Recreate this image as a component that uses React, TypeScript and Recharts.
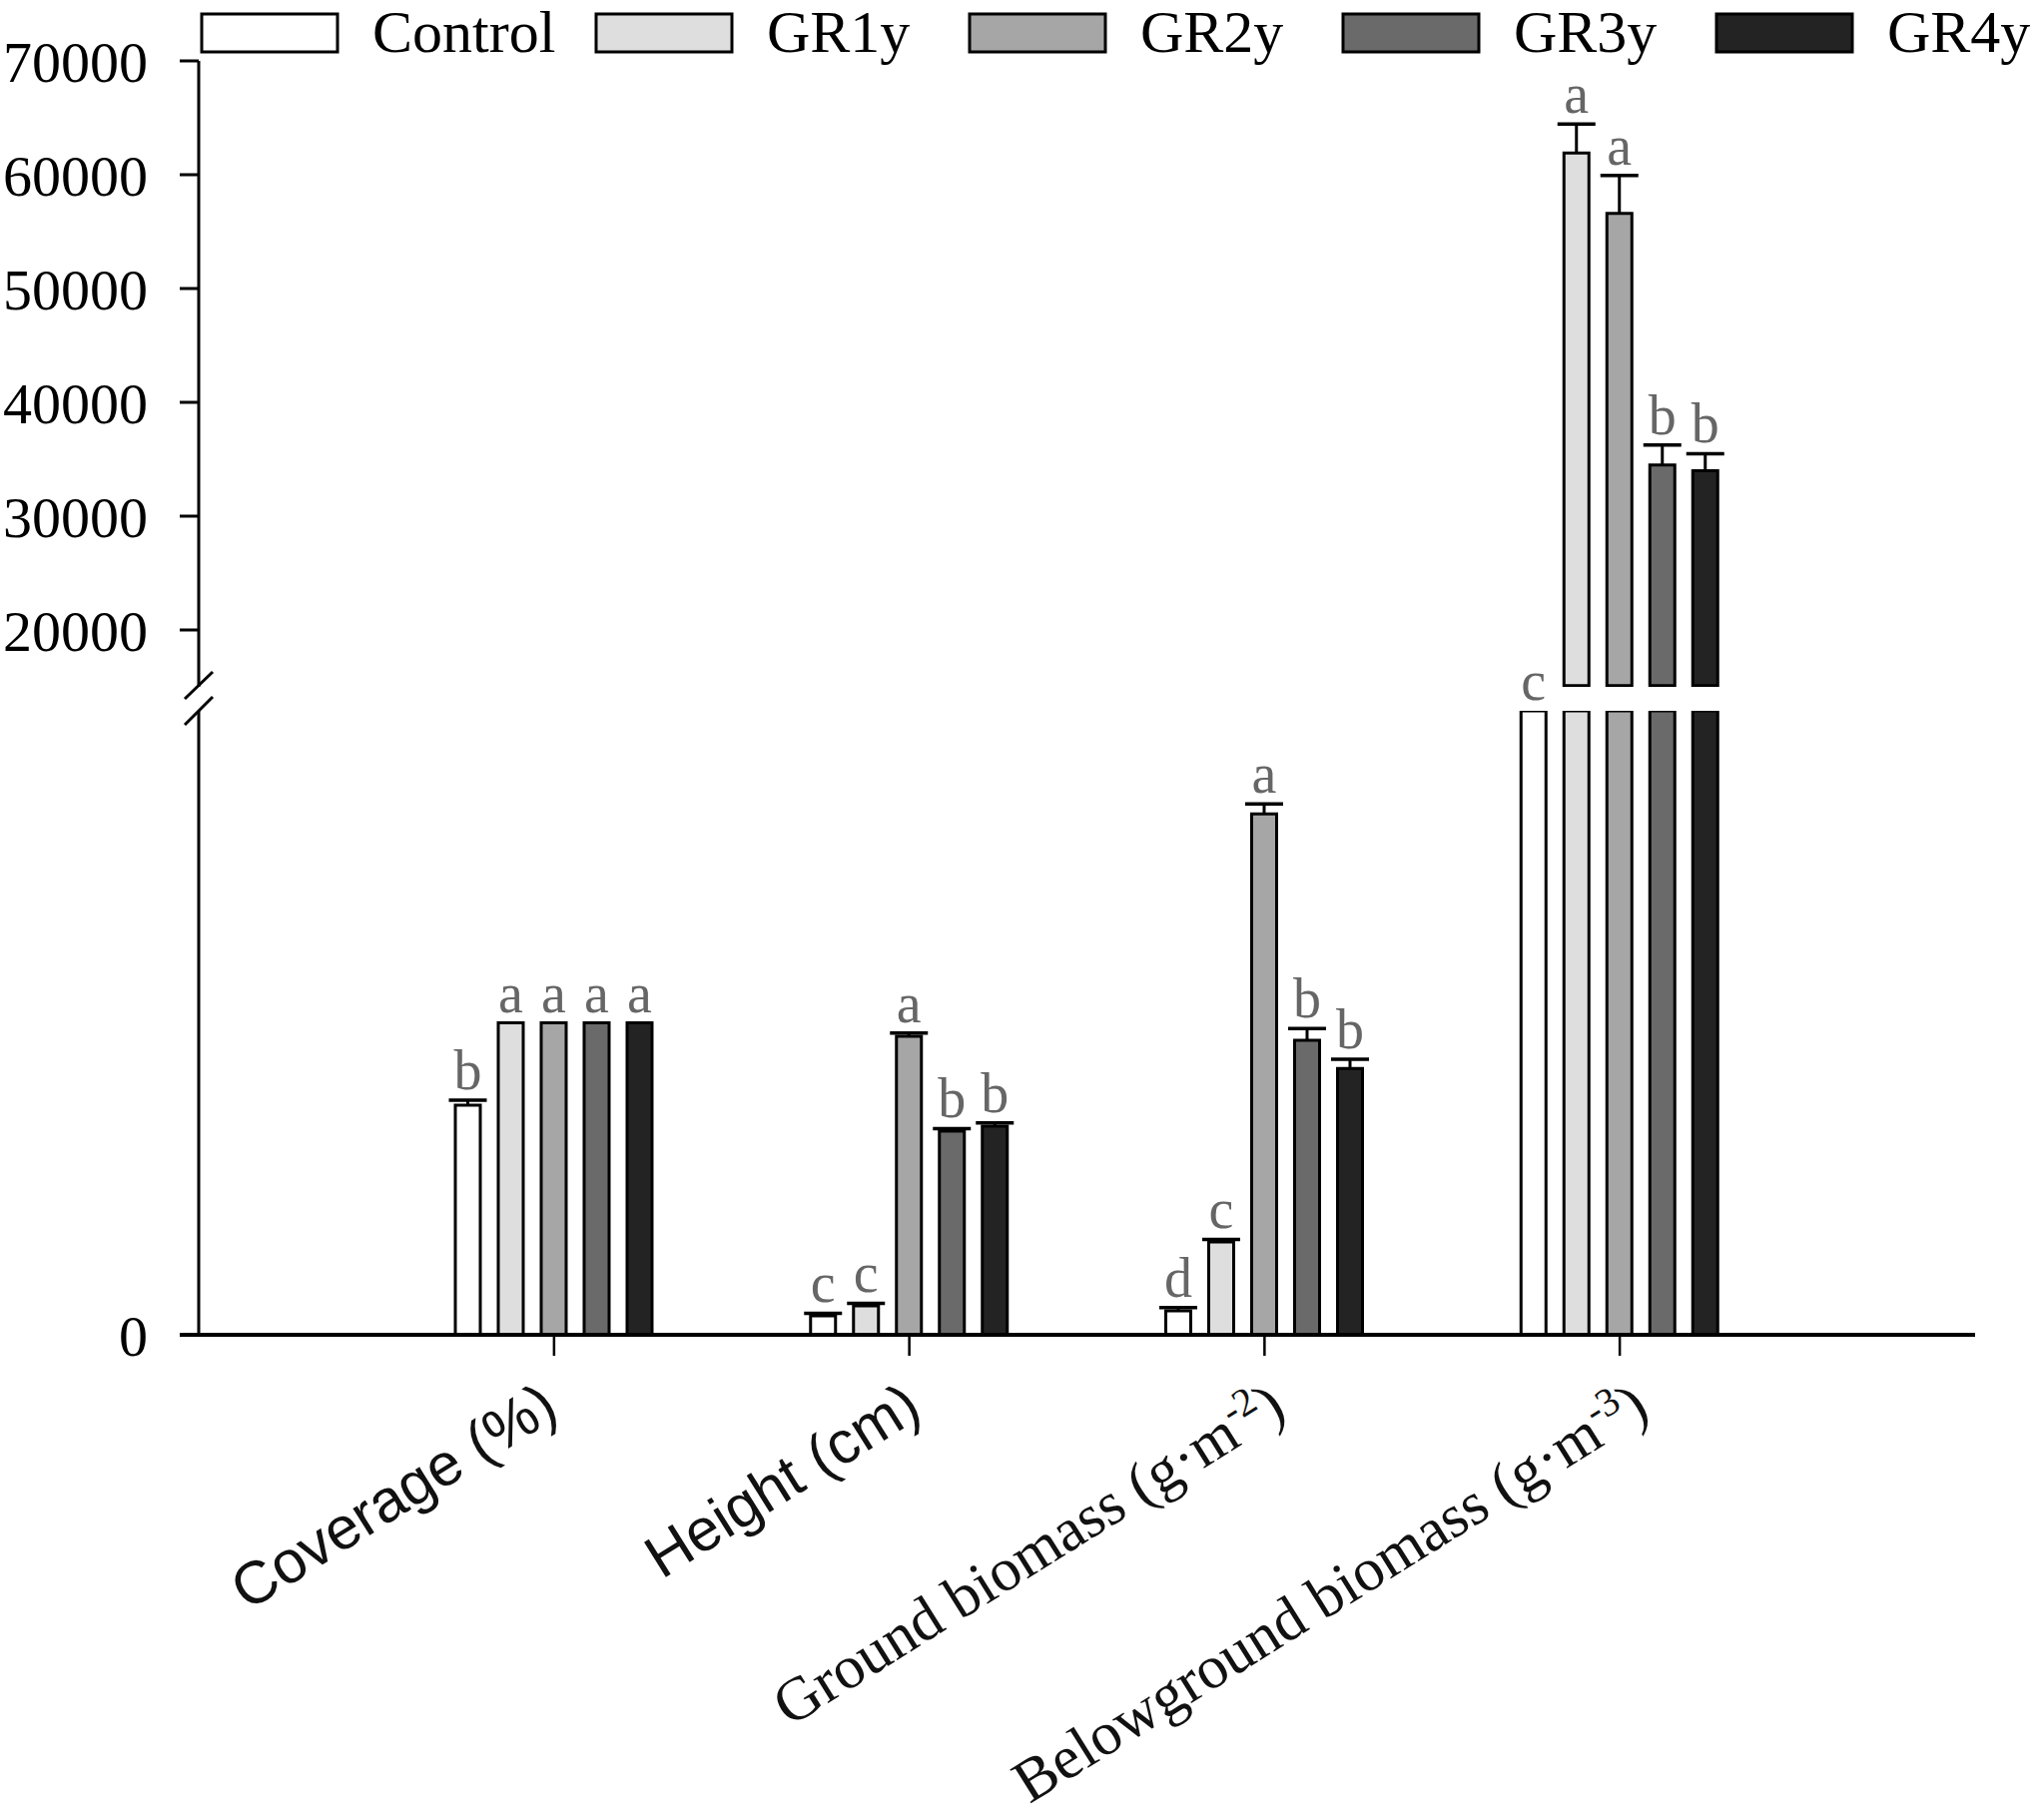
import React from 'react';
import { BarChart, Bar, XAxis, YAxis, LabelList } from 'recharts';

// ---------- data ----------
const categories = [
  'Coverage (%)',
  'Height (cm)',
  'Ground biomass (g·m^-2^)',
  'Belowground biomass (g·m^-3^)',
];
const seriesNames = ['Control', 'GR1y', 'GR2y', 'GR3y', 'GR4y'];
const seriesColors = ['#ffffff', '#dedede', '#a6a6a6', '#6a6a6a', '#232323'];

// lower segment values (unlabelled scale) and belowground biomass in real units
const controlValues = [73.6, 6.1, 7.7, 12000];
const gr1yValues = [100, 9.3, 29.8, 61900];
const gr2yValues = [100, 95.7, 167, 56600];
const gr3yValues = [100, 65.3, 94.4, 34500];
const gr4yValues = [100, 66.9, 85.4, 34000];

const controlErrors = [1.6, 0.8, 1.0, 0];
const gr1yErrors = [0, 0.8, 0.8, 2550];
const gr2yErrors = [0, 1.0, 3.2, 3340];
const gr3yErrors = [0, 0.8, 3.8, 1760];
const gr4yErrors = [0, 1.0, 2.9, 1490];

const controlLetters = ['b', 'c', 'd', 'c'];
const gr1yLetters = ['a', 'c', 'c', 'a'];
const gr2yLetters = ['a', 'a', 'a', 'a'];
const gr3yLetters = ['a', 'b', 'b', 'b'];
const gr4yLetters = ['a', 'b', 'b', 'b'];

const upperTicks = [20000, 30000, 40000, 50000, 60000, 70000];
const lowerTicks = [0];

const LOWER_MAX = 200;
const UPPER_MIN = 15000;
const UPPER_BASE = 15120;
const UPPER_MAX = 70000;

const allValues = [controlValues, gr1yValues, gr2yValues, gr3yValues, gr4yValues];
const allErrors = [controlErrors, gr1yErrors, gr2yErrors, gr3yErrors, gr4yErrors];
const allLetters = [controlLetters, gr1yLetters, gr2yLetters, gr3yLetters, gr4yLetters];

function buildRows(part: 'lower' | 'upper') {
  return categories.map((name, c) => {
    const row: any = { name };
    allValues.forEach((vals, s) => {
      const v = vals[c];
      const e = allErrors[s][c];
      const l = allLetters[s][c];
      if (part === 'lower') {
        const clipped = v > LOWER_MAX;
        row[`o${s}`] = 0;
        row[`v${s}`] = clipped ? LOWER_MAX : v;
        row[`e${s}`] = clipped ? 0 : e;
        row[`l${s}`] = v > UPPER_BASE ? '' : l;
      } else {
        const shown = v > UPPER_BASE;
        row[`o${s}`] = shown ? UPPER_BASE : 0;
        row[`v${s}`] = shown ? v - UPPER_BASE : 0;
        row[`e${s}`] = shown ? e : 0;
        row[`l${s}`] = shown ? l : '';
      }
    });
    return row;
  });
}

const lowerRows = buildRows('lower');
const upperRows = buildRows('upper');

// ---------- styles ----------
const SERIF = "'Liberation Serif', 'Times New Roman', serif";
const SANS = "'Liberation Sans', Arial, sans-serif";
const categoryFonts = [SANS, SANS, SERIF, SERIF];
const categoryFontSizes = [60, 60, 61, 61];
const categoryDx = [7, 15, 24, 32];

const LetterLabel = (props: any) => {
  const { x, y, width, value } = props;
  if (!value) return null;
  return (
    <text
      x={Number(x) + Number(width) / 2}
      y={Number(y) - 11}
      textAnchor="middle"
      fontFamily={SERIF}
      fontSize={56}
      fill="#666666"
    >
      {value}
    </text>
  );
};

const ErrorShape = (props: any) => {
  const { x, y, width, height } = props;
  if (!(Number(height) > 0.5)) return null;
  const cx = Number(x) + Number(width) / 2;
  return (
    <g>
      <line x1={cx} y1={Number(y) + Number(height)} x2={cx} y2={Number(y)} stroke="#000" strokeWidth={3} />
      <line x1={cx - 19} x2={cx + 19} y1={Number(y)} y2={Number(y)} stroke="#000" strokeWidth={3.5} />
    </g>
  );
};

const XTick = (props: any) => {
  const { x, y, payload, index } = props;
  const parts = String(payload.value).split('^');
  const idx = typeof index === 'number' ? index : categories.indexOf(payload.value);
  const fontFamily = categoryFonts[idx] || SANS;
  const fontSize = categoryFontSizes[idx] || 60;
  const dx = categoryDx[idx] ?? 10;
  return (
    <g transform={`translate(${Number(x) + dx},${Number(y) + 58}) rotate(-32)`}>
      <text textAnchor="end" fontFamily={fontFamily} fontSize={fontSize} fill="#111">
        {parts.map((p, i) =>
          i % 2 === 1 ? (
            <tspan key={i} baselineShift="super" fontSize={Math.round(fontSize * 0.65)}>
              {p}
            </tspan>
          ) : (
            <tspan key={i}>{p}</tspan>
          )
        )}
      </text>
    </g>
  );
};

function renderBars() {
  return seriesNames.flatMap((name, s) => [
    <Bar
      key={`o${s}`}
      dataKey={`o${s}`}
      stackId={`s${s}`}
      fill="transparent"
      stroke="none"
      isAnimationActive={false}
      legendType="none"
    />,
    <Bar
      key={`v${s}`}
      dataKey={`v${s}`}
      name={name}
      stackId={`s${s}`}
      fill={seriesColors[s]}
      stroke="#000"
      strokeWidth={3}
      isAnimationActive={false}
    />,
    <Bar
      key={`e${s}`}
      dataKey={`e${s}`}
      stackId={`s${s}`}
      fill="none"
      shape={ErrorShape}
      isAnimationActive={false}
      legendType="none"
    >
      <LabelList dataKey={`l${s}`} content={LetterLabel} />
    </Bar>,
  ]);
}

const yAxisCommon = {
  width: 199,
  tickSize: 19,
  tickMargin: 32,
  interval: 0 as const,
  axisLine: { stroke: '#000', strokeWidth: 3 },
  tickLine: { stroke: '#000', strokeWidth: 3 },
  tick: { fontFamily: SERIF, fontSize: 58, fill: '#000' },
};

const legendX = (i: number) => (i === 0 ? 202 : 223 + i * 374);

const Overlay = () => (
  <svg
    width={2047}
    height={1822}
    style={{ position: 'absolute', left: 0, top: 0, pointerEvents: 'none' }}
  >
    {seriesNames.map((name, i) => (
      <g key={name}>
        <rect x={legendX(i)} y={14} width={136} height={38} fill={seriesColors[i]} stroke="#000" strokeWidth={3} />
        <text x={legendX(i) + 171} y={52} fontFamily={SERIF} fontSize={60} fill="#000">
          {name}
        </text>
      </g>
    ))}
    {/* axis break marks */}
    <line x1={185} y1={700} x2={213} y2={673} stroke="#000" strokeWidth={3} />
    <line x1={185} y1={726} x2={213} y2={698} stroke="#000" strokeWidth={3} />
    {/* x axis extends slightly left of the y axis */}
    <line x1={180} y1={1337} x2={200} y2={1337} stroke="#000" strokeWidth={4} />
  </svg>
);

export default function App() {
  return (
    <div style={{ position: 'absolute', left: 0, top: 0, width: 2047, height: 1822, background: '#fff' }}>
      <div style={{ position: 'absolute', left: 0, top: 640 }}>
        <BarChart
          width={2047}
          height={1182}
          data={lowerRows}
          margin={{ top: 72, right: 69, bottom: 0, left: 0 }}
          barSize={25}
          barGap={18}
        >
          <XAxis
            dataKey="name"
            padding={{ left: 178, right: 178 }}
            height={485}
            interval={0}
            tickSize={21}
            axisLine={{ stroke: '#000', strokeWidth: 4 }}
            tickLine={{ stroke: '#000', strokeWidth: 2.5 }}
            tick={<XTick />}
          />
          <YAxis
            {...yAxisCommon}
            type="number"
            domain={[0, LOWER_MAX]}
            ticks={lowerTicks}
            allowDataOverflow
          />
          {renderBars()}
        </BarChart>
      </div>
      <div style={{ position: 'absolute', left: 0, top: 0 }}>
        <BarChart
          width={2047}
          height={700}
          data={upperRows}
          margin={{ top: 61, right: 69, bottom: 12, left: 0 }}
          barSize={25}
          barGap={18}
        >
          <XAxis dataKey="name" hide padding={{ left: 178, right: 178 }} />
          <YAxis
            {...yAxisCommon}
            type="number"
            domain={[UPPER_MIN, UPPER_MAX]}
            ticks={upperTicks}
            allowDataOverflow
          />
          {renderBars()}
        </BarChart>
      </div>
      <Overlay />
    </div>
  );
}
